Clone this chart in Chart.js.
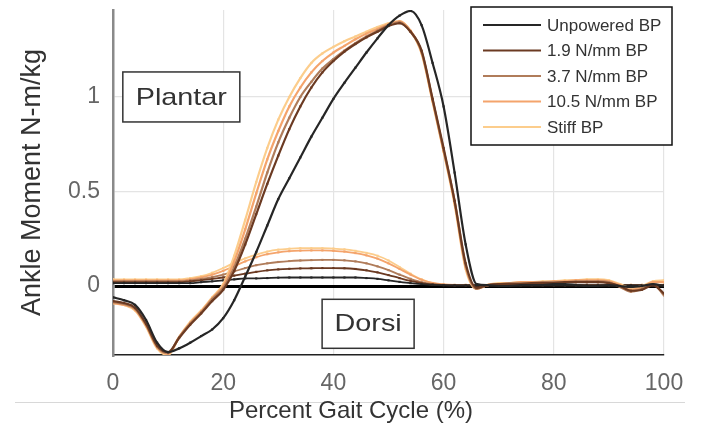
<!DOCTYPE html>
<html>
<head>
<meta charset="utf-8">
<script src="https://cdn.jsdelivr.net/npm/chart.js@4.4.1/dist/chart.umd.min.js"></script>
<style>
  html, body { margin: 0; padding: 0; background: #fff; }
  #wrap { width: 703px; height: 425px; }
</style>
</head>
<body>
<div id="wrap"><canvas id="gaitChart" width="703" height="425"></canvas></div>
<script>
// percent of gait cycle, sampled every 2 %
const gaitPct = [0, 2, 4, 6, 8, 10, 12, 14, 16, 18, 20, 22, 24, 26, 28, 30, 32, 34, 36, 38, 40,
  42, 44, 46, 48, 50, 52, 54, 56, 58, 60, 62, 64, 66, 68, 70, 72, 74, 76, 78, 80,
  82, 84, 86, 88, 90, 92, 94, 96, 98, 100];

// total ankle moment (N-m/kg)
const ankleUnpowered = [-0.06, -0.075, -0.1, -0.18, -0.3, -0.35, -0.33, -0.3, -0.265, -0.23, -0.17,
  -0.075, 0.05, 0.18, 0.32, 0.46, 0.57, 0.68, 0.79, 0.89, 0.99,
  1.075, 1.155, 1.235, 1.31, 1.38, 1.43, 1.455, 1.38, 1.18, 0.95,
  0.6, 0.22, 0.01, 0.005, 0.0, 0.0, 0.005, 0.005, 0.005, 0.01,
  0.01, 0.005, 0.0, 0.0, 0.005, 0.0, -0.005, 0.0, 0.01, 0.0];
const ankle19 = [-0.08, -0.09, -0.115, -0.2, -0.315, -0.35, -0.275, -0.205, -0.145, -0.08, -0.02,
  0.08, 0.22, 0.38, 0.54, 0.69, 0.83, 0.95, 1.05, 1.13, 1.19,
  1.24, 1.28, 1.315, 1.345, 1.375, 1.39, 1.345, 1.245, 0.99, 0.73,
  0.45, 0.12, -0.01, 0.005, 0.01, 0.01, 0.01, 0.015, 0.015, 0.015,
  0.02, 0.02, 0.02, 0.02, 0.015, 0.0, -0.025, -0.02, 0.005, -0.04];
const ankle37 = [-0.085, -0.095, -0.12, -0.205, -0.32, -0.355, -0.27, -0.2, -0.14, -0.07, -0.01,
  0.1, 0.25, 0.42, 0.6, 0.76, 0.89, 1.0, 1.08, 1.15, 1.2,
  1.245, 1.285, 1.32, 1.35, 1.38, 1.395, 1.345, 1.24, 0.985, 0.72,
  0.45, 0.11, -0.015, 0.005, 0.01, 0.015, 0.015, 0.015, 0.02, 0.02,
  0.02, 0.025, 0.025, 0.025, 0.02, -0.005, -0.03, -0.015, 0.01, -0.05];
const ankle105 = [-0.09, -0.1, -0.125, -0.21, -0.325, -0.36, -0.27, -0.195, -0.135, -0.065, 0.0,
  0.13, 0.3, 0.49, 0.67, 0.82, 0.95, 1.05, 1.13, 1.19, 1.235,
  1.27, 1.305, 1.335, 1.36, 1.385, 1.4, 1.35, 1.235, 0.98, 0.715,
  0.44, 0.1, -0.015, 0.005, 0.01, 0.015, 0.02, 0.02, 0.02, 0.025,
  0.025, 0.03, 0.03, 0.03, 0.025, 0.005, -0.02, -0.01, 0.02, 0.02];
const ankleStiff = [-0.09, -0.1, -0.13, -0.215, -0.33, -0.365, -0.27, -0.19, -0.13, -0.06, 0.01,
  0.16, 0.35, 0.55, 0.73, 0.88, 1.0, 1.1, 1.18, 1.23, 1.265,
  1.295, 1.32, 1.345, 1.37, 1.39, 1.4, 1.35, 1.23, 0.975, 0.71,
  0.43, 0.09, -0.015, 0.005, 0.015, 0.015, 0.02, 0.02, 0.025, 0.025,
  0.03, 0.03, 0.035, 0.035, 0.03, 0.01, -0.01, 0.0, 0.025, 0.03];

// moment provided by the device (N-m/kg)
const deviceUnpowered = [0.015, 0.015, 0.015, 0.015, 0.015, 0.015, 0.015, 0.015, 0.02, 0.025, 0.03,
  0.035, 0.04, 0.04, 0.042, 0.044, 0.045, 0.045, 0.045, 0.045, 0.045,
  0.045, 0.045, 0.042, 0.038, 0.03, 0.022, 0.015, 0.01, 0.006, 0.004,
  0.003, 0.003, 0.003, 0.003, 0.003, 0.003, 0.003, 0.003, 0.003, 0.003,
  0.003, 0.003, 0.003, 0.003, 0.003, 0.003, 0.003, 0.003, 0.003, 0.003];
const device19 = [0.02, 0.02, 0.02, 0.02, 0.02, 0.02, 0.02, 0.025, 0.03, 0.038, 0.045,
  0.055, 0.065, 0.075, 0.083, 0.088, 0.091, 0.093, 0.094, 0.095, 0.095,
  0.094, 0.09, 0.083, 0.072, 0.058, 0.042, 0.027, 0.015, 0.008, 0.005,
  0.004, 0.004, 0.004, 0.004, 0.004, 0.004, 0.004, 0.004, 0.004, 0.004,
  0.004, 0.004, 0.004, 0.004, 0.004, 0.004, 0.004, 0.004, 0.004, 0.004];
const device37 = [0.025, 0.025, 0.025, 0.025, 0.025, 0.025, 0.025, 0.03, 0.037, 0.047, 0.06,
  0.077, 0.095, 0.11, 0.12, 0.127, 0.132, 0.135, 0.137, 0.138, 0.138,
  0.136, 0.13, 0.12, 0.104, 0.084, 0.06, 0.038, 0.02, 0.01, 0.006,
  0.005, 0.005, 0.005, 0.005, 0.005, 0.005, 0.005, 0.005, 0.005, 0.005,
  0.005, 0.005, 0.005, 0.005, 0.005, 0.005, 0.005, 0.005, 0.005, 0.005];
const device105 = [0.03, 0.03, 0.03, 0.03, 0.03, 0.03, 0.03, 0.035, 0.045, 0.06, 0.08,
  0.105, 0.13, 0.152, 0.168, 0.178, 0.184, 0.187, 0.188, 0.188, 0.186,
  0.182, 0.174, 0.162, 0.145, 0.12, 0.09, 0.06, 0.033, 0.016, 0.008,
  0.006, 0.006, 0.006, 0.006, 0.006, 0.006, 0.006, 0.006, 0.006, 0.006,
  0.006, 0.006, 0.006, 0.006, 0.006, 0.006, 0.006, 0.006, 0.006, 0.006];
const deviceStiff = [0.035, 0.035, 0.035, 0.035, 0.035, 0.035, 0.035, 0.042, 0.052, 0.07, 0.095,
  0.122, 0.146, 0.166, 0.182, 0.192, 0.197, 0.2, 0.2, 0.2, 0.198,
  0.194, 0.186, 0.175, 0.16, 0.135, 0.1, 0.065, 0.035, 0.015, 0.007,
  0.006, 0.006, 0.006, 0.006, 0.006, 0.006, 0.006, 0.006, 0.006, 0.006,
  0.006, 0.006, 0.006, 0.006, 0.006, 0.006, 0.006, 0.006, 0.006, 0.006];

const seriesLabels = ['Unpowered BP', '1.9 N/mm BP', '3.7 N/mm BP', '10.5 N/mm BP', 'Stiff BP'];
const seriesColors = ['#262626', '#6b3a22', '#b07c5a', '#f4a46c', '#fccd8c'];
const ankleSeries = [ankleUnpowered, ankle19, ankle37, ankle105, ankleStiff];
const deviceSeries = [deviceUnpowered, device19, device37, device105, deviceStiff];
const yTickValues = [0, 0.5, 1];

const FONT = '"Liberation Sans", Arial, Helvetica, sans-serif';

function makeSet(label, values, color, width) {
  return {
    label: label,
    data: gaitPct.map((x, i) => ({ x: x, y: values[i] })),
    borderColor: color,
    backgroundColor: color,
    borderWidth: width,
    pointStyle: 'rect',
    pointRadius: 1.5,
    pointBorderWidth: 0,
    pointBackgroundColor: color,
    cubicInterpolationMode: 'monotone',
    fill: false
  };
}

const datasets = [];
seriesLabels.forEach((l, i) => datasets.push(makeSet(l, ankleSeries[i], seriesColors[i], 2.2)));
seriesLabels.forEach((l, i) => datasets.push(makeSet(l + ' device', deviceSeries[i], seriesColors[i], 1.8)));

// text boxes placed in data units
const textBoxes = [
  { text: 'Plantar', x: 12.4, y: 1.0, w: 117, h: 50 },
  { text: 'Dorsi', x: 46.3, y: -0.2, w: 92, h: 49 }
];

const decorations = {
  id: 'decorations',
  beforeDraw(chart) {
    const ctx = chart.ctx;
    ctx.save();
    ctx.fillStyle = '#fff';
    ctx.fillRect(0, 0, chart.width, chart.height);
    ctx.strokeStyle = '#d8d8d8';
    ctx.lineWidth = 1;
    ctx.beginPath();
    ctx.moveTo(15, 402.5);
    ctx.lineTo(685, 402.5);
    ctx.stroke();
    ctx.restore();
  },
  afterDraw(chart) {
    const ctx = chart.ctx;
    const xs = chart.scales.x, ys = chart.scales.y;
    const area = chart.chartArea;
    ctx.save();

    // Plantar / Dorsi boxes
    textBoxes.forEach(b => {
      const cx = xs.getPixelForValue(b.x);
      const cy = ys.getPixelForValue(b.y);
      ctx.fillStyle = '#fff';
      ctx.fillRect(cx - b.w / 2, cy - b.h / 2, b.w, b.h);
      ctx.strokeStyle = '#333';
      ctx.lineWidth = 1.5;
      ctx.strokeRect(cx - b.w / 2, cy - b.h / 2, b.w, b.h);
      ctx.save();
      ctx.translate(cx, cy + 1);
      ctx.scale(1.2, 1);
      ctx.fillStyle = '#333';
      ctx.font = '24px ' + FONT;
      ctx.textAlign = 'center';
      ctx.textBaseline = 'middle';
      ctx.fillText(b.text, 0, 0);
      ctx.restore();
    });

    // legend
    const lw = 201, lh = 138;
    const lx = area.right + 8 - lw, ly = 7;
    ctx.fillStyle = '#fff';
    ctx.fillRect(lx, ly, lw, lh);
    ctx.strokeStyle = '#111';
    ctx.lineWidth = 1.5;
    ctx.strokeRect(lx, ly, lw, lh);
    ctx.font = '17px ' + FONT;
    ctx.textAlign = 'left';
    ctx.textBaseline = 'middle';
    seriesLabels.forEach((l, i) => {
      const ry = ly + 18 + i * 25.5;
      ctx.strokeStyle = seriesColors[i];
      ctx.lineWidth = 2;
      ctx.beginPath();
      ctx.moveTo(lx + 12, ry);
      ctx.lineTo(lx + 70, ry);
      ctx.stroke();
      ctx.fillStyle = '#333';
      ctx.fillText(l, lx + 76, ry + 1);
    });

    // x axis title
    ctx.fillStyle = '#333';
    ctx.font = '24px ' + FONT;
    ctx.textAlign = 'center';
    ctx.textBaseline = 'middle';
    ctx.fillText('Percent Gait Cycle (%)', 351, 411);
    ctx.restore();
  }
};

new Chart(document.getElementById('gaitChart'), {
  type: 'line',
  data: { datasets: datasets },
  options: {
    responsive: false,
    animation: false,
    devicePixelRatio: 1,
    layout: { padding: { top: 10, right: 39, bottom: 0, left: 0 } },
    plugins: { legend: { display: false }, tooltip: { enabled: false } },
    scales: {
      x: {
        type: 'linear',
        min: 0,
        max: 100,
        ticks: { stepSize: 20, padding: 15, color: '#666', font: { family: FONT, size: 23 } },
        grid: { color: '#e4e4e4', lineWidth: 1.2, drawTicks: false },
        border: { display: true, color: '#222', width: 1.5 },
        afterFit(scale) {
          scale.height = 70;
          scale.paddingLeft = 0;
          scale.paddingRight = 0;
        }
      },
      y: {
        min: -0.365,
        max: 1.46,
        afterBuildTicks(scale) { scale.ticks = yTickValues.map(v => ({ value: v })); },
        ticks: {
          padding: 13,
          color: '#666',
          font: { family: FONT, size: 23 },
          callback: v => String(v)
        },
        grid: {
          drawTicks: false,
          color: c => (c.tick && c.tick.value === 0 ? '#000' : '#e4e4e4'),
          lineWidth: c => (c.tick && c.tick.value === 0 ? 3 : 1.2)
        },
        border: { display: true, color: '#8a8a8a', width: 2.5 },
        title: {
          display: true,
          text: 'Ankle Moment N-m/kg',
          color: '#333',
          font: { family: FONT, size: 27 },
          padding: { top: 16, bottom: 0 }
        },
        afterFit(scale) {
          scale.width = 113;
          scale.paddingTop = 0;
          scale.paddingBottom = 0;
        }
      }
    }
  },
  plugins: [decorations]
});
</script>
</body>
</html>
